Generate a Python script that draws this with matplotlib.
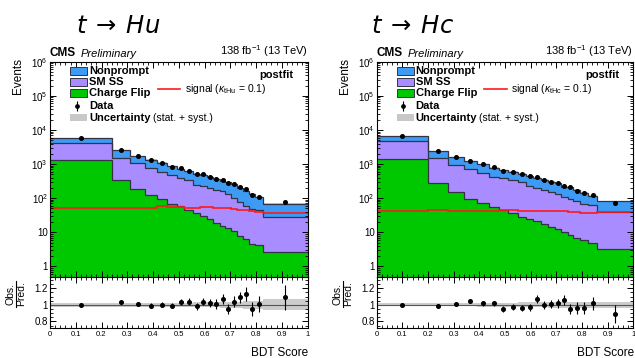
import numpy as np
import matplotlib
matplotlib.use("Agg")
import matplotlib.pyplot as plt
from matplotlib.patches import Rectangle
from matplotlib.lines import Line2D
from matplotlib.ticker import FixedLocator, FuncFormatter, MultipleLocator, NullFormatter

plt.rcParams['font.family'] = ['Liberation Sans', 'DejaVu Sans']
plt.rcParams['mathtext.fontset'] = 'custom'
plt.rcParams['mathtext.rm'] = 'Liberation Sans'
plt.rcParams['mathtext.it'] = 'Liberation Sans:italic'
plt.rcParams['mathtext.bf'] = 'Liberation Sans:bold'

# ---------------- data: t -> Hu ----------------
edges_hu = [0, 0.24, 0.312, 0.370, 0.414, 0.454, 0.492, 0.522, 0.556, 0.582, 0.608,
            0.634, 0.659, 0.681, 0.704, 0.726, 0.748, 0.772, 0.798, 0.826, 1.0]
charge_flip_hu = [1290, 344, 190, 125, 94, 68, 60, 44, 36.5, 30.5, 24.3, 18.6, 15.5,
                  13.3, 10.6, 7.9, 6.3, 4.6, 4.2, 2.6]
sm_ss_hu = [2790, 1156, 870, 632, 507, 415, 326, 301, 210, 190, 173, 157, 142, 121,
            89, 72, 54, 43, 40, 25]
nonprompt_hu = [1640, 1024, 623, 581, 507, 372, 349, 276, 269, 266, 226, 181, 165, 155,
                153, 122, 106, 84, 62, 42]
signal_hu = [50, 51, 52, 53, 59, 55, 54, 51, 50, 57, 54, 52, 51, 50, 48, 46, 44, 42, 40, 36]
data_hu = [5720, 2600, 1700, 1325, 1108, 846, 757, 646, 505, 505, 431, 361, 345, 275,
           263, 220, 188, 125, 107, 76]
ratio_hu = [1.00, 1.03, 1.01, 0.99, 1.00, 0.99, 1.03, 1.04, 0.98, 1.04, 1.02, 1.01, 1.07,
            0.95, 1.04, 1.09, 1.13, 0.95, 1.01, 1.09]
ratio_err_hu = [0.013, 0.02, 0.025, 0.028, 0.03, 0.034, 0.036, 0.04, 0.045, 0.045, 0.05,
                0.055, 0.06, 0.06, 0.065, 0.07, 0.08, 0.09, 0.1, 0.15]
unc_hu = [0.025, 0.025, 0.025, 0.025, 0.025, 0.025, 0.025, 0.025, 0.03, 0.03, 0.03, 0.03,
          0.035, 0.035, 0.04, 0.04, 0.045, 0.045, 0.05, 0.065]

# ---------------- data: t -> Hc ----------------
edges_hc = [0, 0.2, 0.277, 0.340, 0.390, 0.436, 0.476, 0.512, 0.550, 0.581, 0.610,
            0.639, 0.666, 0.693, 0.717, 0.744, 0.765, 0.794, 0.822, 0.860, 1.0]
charge_flip_hc = [1420, 275, 147, 96, 72, 55, 46, 36.5, 28, 24, 21, 17.4, 14.2, 12.4,
                  9.9, 8.5, 6.8, 5.8, 4.8, 3.2]
sm_ss_hc = [3360, 1215, 773, 604, 468, 355, 344, 314, 262, 211, 184, 153, 136, 123,
            102, 88, 78, 64, 57, 35]
nonprompt_hc = [1720, 884, 684, 500, 440, 379, 273, 253, 226, 214, 198, 175, 155, 141,
                107, 123, 88, 76, 58, 43]
signal_hc = [41, 44, 43, 43, 42, 43, 44, 44, 43, 43, 43, 42, 42, 41, 41, 40, 40, 38, 37, 39]
data_hc = [6500, 2350, 1620, 1260, 1000, 805, 630, 585, 495, 436, 431, 345, 308, 282,
           232, 208, 166, 140, 122, 72]
ratio_hc = [1.00, 0.99, 1.01, 1.05, 1.02, 1.02, 0.95, 0.97, 0.96, 0.97, 1.07, 1.00, 1.01,
            1.02, 1.06, 0.95, 0.96, 0.96, 1.02, 0.89]
ratio_err_hc = [0.01, 0.015, 0.02, 0.025, 0.03, 0.03, 0.035, 0.035, 0.04, 0.04, 0.045,
                0.05, 0.05, 0.055, 0.06, 0.065, 0.07, 0.075, 0.08, 0.11]
unc_hc = [0.02, 0.02, 0.02, 0.02, 0.025, 0.025, 0.025, 0.025, 0.03, 0.03, 0.03, 0.03,
          0.035, 0.035, 0.035, 0.04, 0.04, 0.04, 0.04, 0.035]

y_major = [1, 10, 1e2, 1e3, 1e4, 1e5, 1e6]

BLUE = '#3d9bf5'
PURPLE = '#a98cff'
GREEN = '#00c800'
EDGE = '#333344'

W, H = 635, 358
fig = plt.figure(figsize=(W / 100, H / 100), dpi=100)


def rect(x0, x1, ytop, ybot):
    return [x0 / W, 1 - ybot / H, (x1 - x0) / W, (ybot - ytop) / H]


def yfmt(v, pos):
    e = int(round(np.log10(v)))
    if e == 0:
        return '1'
    if e == 1:
        return '10'
    return r'$10^{%d}$' % e


def style_axis(a):
    a.tick_params(which='both', direction='in', top=True, right=True)
    a.tick_params(which='major', length=4.5, width=0.7)
    a.tick_params(which='minor', length=2.2, width=0.6)
    for s in a.spines.values():
        s.set_linewidth(0.8)


def draw(xl, xr, edges, cf, ss, npr, sig, data, ratio, rerr, unc, kap, title, title_x):
    ax = fig.add_axes(rect(xl, xr, 61.7, 276.7))
    rax = fig.add_axes(rect(xl, xr, 276.7, 328))
    edges = np.array(edges)
    cf = np.array(cf, float); ss = np.array(ss, float); npr = np.array(npr, float)
    c1 = cf
    c2 = cf + ss
    c3 = c2 + npr
    unc = np.array(unc)
    ax.stairs(c3, edges, baseline=1e-3, fill=True, color=BLUE, lw=0)
    ax.stairs(c2, edges, baseline=1e-3, fill=True, color=PURPLE, lw=0)
    ax.stairs(c1, edges, baseline=1e-3, fill=True, color=GREEN, lw=0)
    ax.stairs(c3 * (1 + unc), edges, baseline=c3 * (1 - unc), fill=True,
              color='#8f8f8f', alpha=0.45, lw=0)
    for c in (c1, c2, c3):
        ax.stairs(c, edges, baseline=None, color=EDGE, lw=0.9)
    ax.stairs(np.array(sig), edges, baseline=None, color='#ff1a1a', lw=1.2)
    centers = 0.5 * (edges[:-1] + edges[1:])
    data = np.array(data, float)
    ax.errorbar(centers, data, yerr=np.sqrt(data), fmt='o', ms=2.6, color='k',
                elinewidth=0.8, capsize=0)
    ax.set_yscale('log')
    ax.set_ylim(0.5, 1e6)
    ax.set_xlim(0, 1)
    minors = [m * 10 ** e for e in range(-1, 6) for m in range(2, 10)
              if 0.5 <= m * 10 ** e <= 1e6]
    ax.yaxis.set_major_locator(FixedLocator(y_major))
    ax.yaxis.set_minor_locator(FixedLocator(minors))
    ax.yaxis.set_major_formatter(FuncFormatter(yfmt))
    ax.yaxis.set_minor_formatter(NullFormatter())
    ax.xaxis.set_major_locator(MultipleLocator(0.1))
    ax.xaxis.set_minor_locator(MultipleLocator(0.02))
    ax.tick_params(axis='x', labelbottom=False)
    ax.tick_params(axis='y', labelsize=7, pad=1.5)
    style_axis(ax)

    # legend (manual, ROOT style)
    rows = [0.958, 0.904, 0.853, 0.795, 0.740]
    bh = 0.036
    for y, col in zip(rows[:3], (BLUE, PURPLE, GREEN)):
        ax.add_patch(Rectangle((0.078, y - bh / 2), 0.066, bh, transform=ax.transAxes,
                               facecolor=col, edgecolor=EDGE, lw=0.7, zorder=5))
    ax.add_patch(Rectangle((0.078, rows[4] - bh / 2), 0.066, bh, transform=ax.transAxes,
                           facecolor='#c8c8c8', edgecolor='none', zorder=5))
    ax.errorbar([0.104], [rows[3]], yerr=[0.022], fmt='o', ms=2.4, color='k',
                elinewidth=0.8, capsize=0, transform=ax.transAxes, zorder=6)
    names = ['Nonprompt', 'SM SS', 'Charge Flip', 'Data', 'Uncertainty']
    for y, n in zip(rows, names):
        ax.text(0.152, y, n, transform=ax.transAxes, fontsize=8, fontweight='bold',
                va='center', ha='left', zorder=6)
    ax.text(0.400, rows[4], '(stat. + syst.)', transform=ax.transAxes, fontsize=7.5,
            va='center', ha='left', zorder=6)
    ax.text(0.946, 0.937, 'postfit', transform=ax.transAxes, fontsize=8,
            fontweight='bold', va='center', ha='right')
    ax.add_line(Line2D([0.420, 0.506], [0.872, 0.872], transform=ax.transAxes,
                       color='#ff1a1a', lw=1.2))
    ax.text(0.525, 0.872, r'signal ($\kappa_{\mathrm{%s}}$ = 0.1)' % kap,
            transform=ax.transAxes, fontsize=7.5, va='center', ha='left')

    ax.text(0.0, 1.012, 'CMS', transform=ax.transAxes, fontsize=8.5, fontweight='bold',
            va='bottom', ha='left')
    ax.text(0.120, 1.012, 'Preliminary', transform=ax.transAxes, fontsize=8,
            style='italic', va='bottom', ha='left')
    ax.text(1.0, 1.012, r'138 fb$^{-1}$ (13 TeV)', transform=ax.transAxes, fontsize=8,
            va='bottom', ha='right')

    # ratio
    rax.stairs(1 + unc, edges, baseline=1 - unc, fill=True, color='#cccccc', lw=0)
    rax.axhline(1.0, color='#555555', lw=0.8)
    rax.errorbar(centers, ratio, yerr=rerr, fmt='o', ms=2.6, color='k',
                 elinewidth=0.8, capsize=0)
    rax.set_xlim(0, 1)
    rax.set_ylim(0.72, 1.34)
    rax.yaxis.set_major_locator(FixedLocator([0.8, 1.0, 1.2]))
    rax.yaxis.set_major_formatter(FuncFormatter(lambda v, p: ('%g' % round(v, 2))))
    rax.yaxis.set_minor_locator(FixedLocator([0.75, 0.85, 0.9, 0.95, 1.05, 1.1, 1.15,
                                              1.25, 1.3]))
    rax.xaxis.set_major_locator(MultipleLocator(0.1))
    rax.xaxis.set_minor_locator(MultipleLocator(0.02))
    rax.xaxis.set_major_formatter(FuncFormatter(lambda v, p: '%g' % round(v, 2)))
    rax.tick_params(axis='x', labelsize=5.5, pad=2)
    rax.tick_params(axis='y', labelsize=7, pad=1.5)
    style_axis(rax)

    fig.text((xr + 0.5) / W, 1 - 356 / H, 'BDT Score', fontsize=8.5, ha='right',
             va='baseline')
    fig.text((xl - 32) / W, 1 - 58 / H, 'Events', fontsize=8.5, rotation=90,
             ha='center', va='top')
    # Obs./Pred. as a ROOT-style fraction
    fx = xl - 34
    fig.text((fx - 5.5) / W, 1 - 294 / H, 'Obs.', fontsize=7.5, rotation=90,
             ha='center', va='center')
    fig.text((fx + 5.5) / W, 1 - 294 / H, 'Pred.', fontsize=7.5, rotation=90,
             ha='center', va='center')
    fig.add_artist(Line2D([fx / W, fx / W], [1 - 307 / H, 1 - 281 / H],
                          transform=fig.transFigure, color='k', lw=0.8))
    fig.text(title_x / W, 1 - 27 / H, title, fontsize=17.5, ha='center', va='center',
             math_fontfamily='dejavusans')


draw(50, 307.5, edges_hu, charge_flip_hu, sm_ss_hu, nonprompt_hu, signal_hu, data_hu,
     ratio_hu, ratio_err_hu, unc_hu, 'tHu', r'$t\:\rightarrow\:Hu$', 118)
draw(376.7, 633.3, edges_hc, charge_flip_hc, sm_ss_hc, nonprompt_hc, signal_hc, data_hc,
     ratio_hc, ratio_err_hc, unc_hc, 'tHc', r'$t\:\rightarrow\:Hc$', 413)

fig.savefig('out.png', dpi=100)
